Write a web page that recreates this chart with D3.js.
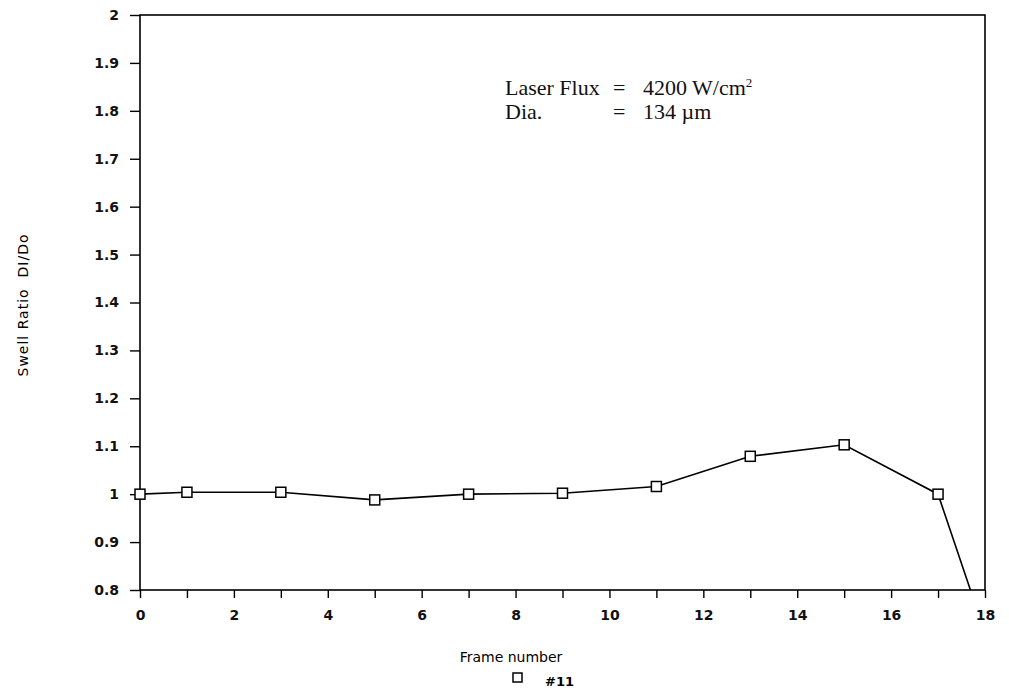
<!DOCTYPE html>
<html>
<head>
<meta charset="utf-8">
<script src="https://cdn.jsdelivr.net/npm/d3@7"></script>
<style>
  body { margin: 0; background: #fff; }
  .tick text { font-family: "DejaVu Sans", sans-serif; font-size: 14px; font-weight: bold; }
  text { white-space: pre; }
</style>
</head>
<body>
<svg id="chart" width="1009" height="692"></svg>
<script>
// frame numbers and swell ratio for run #11 (last point drops off the bottom)
var frames = [0, 1, 3, 5, 7, 9, 11, 13, 15, 17, 19];
var swell  = [1.0, 1.004, 1.004, 0.988, 1.0, 1.002, 1.016, 1.079, 1.103, 1.0, 0.42];
var xTicks = [0, 2, 4, 6, 8, 10, 12, 14, 16, 18];
var yTicks = [0.8, 0.9, 1, 1.1, 1.2, 1.3, 1.4, 1.5, 1.6, 1.7, 1.8, 1.9, 2];

var margin = {left: 140, top: 15, right: 24, bottom: 102};
var W = 1009, H = 692;
var w = W - margin.left - margin.right, h = H - margin.top - margin.bottom;

var svg = d3.select('#chart');
var g = svg.append('g').attr('transform', 'translate(' + margin.left + ',' + margin.top + ')');

var x = d3.scaleLinear().domain([0, 18]).range([0, w]);
var y = d3.scaleLinear().domain([0.8, 2]).range([h, 0]);

// frame box
g.append('rect').attr('width', w).attr('height', h)
  .attr('fill', 'none').attr('stroke', '#000').attr('stroke-width', 1.6);

var xAxis = g.append('g').attr('transform', 'translate(0,' + h + ')')
  .call(d3.axisBottom(x).ticks(18).tickSize(8).tickPadding(12)
    .tickFormat(function(d){ return xTicks.indexOf(d) >= 0 ? d : ''; }));
var yAxis = g.append('g')
  .call(d3.axisLeft(y).tickValues(yTicks).tickSize(10).tickPadding(11)
    .tickFormat(function(d){ return d === 1 || d === 2 ? d : d3.format('.1f')(d); }));
[xAxis, yAxis].forEach(function(a){
  a.select('.domain').remove();
  a.selectAll('line').attr('stroke', '#000').attr('stroke-width', 1.4);
  a.selectAll('text').attr('fill', '#111');
});

g.append('clipPath').attr('id', 'clip').append('rect').attr('width', w).attr('height', h);

var pts = frames.map(function(f, i){ return [f, swell[i]]; });
var line = d3.line().x(function(d){ return x(d[0]); }).y(function(d){ return y(d[1]); });

g.append('path').datum(pts).attr('clip-path', 'url(#clip)')
  .attr('d', line).attr('fill', 'none').attr('stroke', '#000').attr('stroke-width', 1.6);

g.selectAll('.pt').data(pts.filter(function(d){ return d[1] >= 0.8; })).enter()
  .append('rect').attr('class', 'pt')
  .attr('x', function(d){ return x(d[0]) - 5; })
  .attr('y', function(d){ return y(d[1]) - 5; })
  .attr('width', 10).attr('height', 10)
  .attr('fill', '#fff').attr('stroke', '#000').attr('stroke-width', 1.5);

// annotation
var note = svg.append('g').attr('font-family', '"Liberation Serif", serif').attr('font-size', 22).attr('fill', '#111');
note.append('text').attr('x', 505).attr('y', 95).text('Laser Flux');
note.append('text').attr('x', 613).attr('y', 95).text('=');
var t1 = note.append('text').attr('x', 643).attr('y', 95);
t1.append('tspan').text('4200 W/cm');
t1.append('tspan').attr('dy', -8).attr('font-size', 13).text('2');
note.append('text').attr('x', 505).attr('y', 119).text('Dia.');
note.append('text').attr('x', 613).attr('y', 119).text('=');
note.append('text').attr('x', 643).attr('y', 119).text('134 \u00b5m');

// axis titles
svg.append('text').attr('x', 511).attr('y', 662).attr('text-anchor', 'middle')
  .attr('font-family', '"DejaVu Sans", sans-serif').attr('font-size', 14).text('Frame number');
svg.append('text').attr('transform', 'translate(28,305) rotate(-90)').attr('text-anchor', 'middle')
  .attr('font-family', '"DejaVu Sans", sans-serif').attr('font-size', 14).attr('letter-spacing', 1)
  .text('Swell Ratio  DI/Do');

// legend
svg.append('rect').attr('x', 513).attr('y', 673).attr('width', 9).attr('height', 9)
  .attr('fill', '#fff').attr('stroke', '#000').attr('stroke-width', 1.5);
svg.append('text').attr('x', 545).attr('y', 686)
  .attr('font-family', '"DejaVu Sans", sans-serif').attr('font-size', 13).attr('font-weight', 'bold').text('#11');
</script>
</body>
</html>
